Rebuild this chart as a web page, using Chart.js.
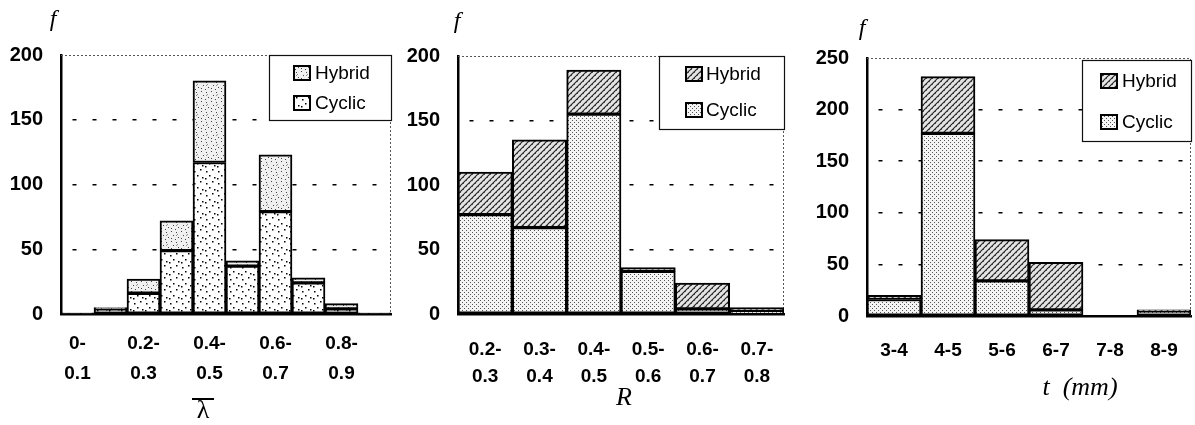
<!DOCTYPE html>
<html>
<head>
<meta charset="utf-8">
<script src="https://cdn.jsdelivr.net/npm/chart.js@4/dist/chart.umd.min.js"></script>
<style>
  body { margin: 0; background: #fff; }
  #wrap { position: relative; width: 1195px; height: 425px; }
  .panel { position: absolute; top: 0; height: 425px; }
</style>
</head>
<body>
<div id="wrap">
  <div class="panel" style="left:0px;width:400px"><canvas id="grafico-lambda" width="400" height="425"></canvas></div>
  <div class="panel" style="left:400px;width:395px"><canvas id="grafico-r" width="395" height="425"></canvas></div>
  <div class="panel" style="left:800px;width:395px"><canvas id="grafico-t" width="395" height="425"></canvas></div>
</div>
<script>
// dati
var lambdaCats = ['0-0.1', '0.1-0.2', '0.2-0.3', '0.3-0.4', '0.4-0.5', '0.5-0.6', '0.6-0.7', '0.7-0.8', '0.8-0.9', '0.9-1.0'];
var lambdaCyclic = [1, 4, 16, 49, 117, 37, 79, 24, 4, 1];
var lambdaHybrid = [0, 1, 11, 23, 63, 4, 44, 4, 4, 0];

var rCats = ['0.2-0.3', '0.3-0.4', '0.4-0.5', '0.5-0.6', '0.6-0.7', '0.7-0.8'];
var rCyclic = [77, 67, 155, 33, 4, 2];
var rHybrid = [33, 68, 34, 3, 20, 3];

var tCats = ['3-4', '4-5', '5-6', '6-7', '7-8', '8-9'];
var tCyclic = [16, 177, 34, 6, 0, 5];
var tHybrid = [4, 55, 40, 46, 0, 1];

var seriesNames = ['Cyclic', 'Hybrid'];
var yTicks1 = [0, 50, 100, 150, 200];
var yTicks3 = [0, 50, 100, 150, 200, 250];

// retini (pattern) per le barre
function tile(w, h, draw) {
    var c = document.createElement('canvas');
    c.width = w; c.height = h;
    var g = c.getContext('2d');
    draw(g);
    return document.createElement('canvas').getContext('2d').createPattern(c, 'repeat');
}

var sparseDots = tile(12, 12, function(g){
    g.fillStyle = '#fff'; g.fillRect(0, 0, 12, 12);
    g.fillStyle = '#000';
    [[2,3],[8,1],[5,7],[10,9],[1,10]].forEach(function(p){ g.fillRect(p[0], p[1], 1.5, 1.5); });
});
var speckle = tile(10, 10, function(g){
    g.fillStyle = '#f0f0f0'; g.fillRect(0, 0, 10, 10);
    g.fillStyle = '#444';
    [[1,1],[6,2],[3,5],[8,7],[1,8],[5,9]].forEach(function(p){ g.fillRect(p[0], p[1], 1, 1); });
    g.strokeStyle = '#777'; g.lineWidth = 0.8;
    g.beginPath(); g.moveTo(6, 6); g.lineTo(8, 4); g.stroke();
});
var fineDots = tile(4, 4, function(g){
    g.fillStyle = '#f4f4f4'; g.fillRect(0, 0, 4, 4);
    g.fillStyle = '#555';
    g.fillRect(0, 0, 1, 1); g.fillRect(2, 2, 1, 1);
});
var hatch = tile(6, 6, function(g){
    g.fillStyle = '#e4e4e4'; g.fillRect(0, 0, 6, 6);
    g.fillStyle = '#666';
    g.fillRect(0, 0, 1, 1); g.fillRect(3, 3, 1, 1);
    g.strokeStyle = '#222'; g.lineWidth = 1.1;
    g.beginPath();
    g.moveTo(0, 6); g.lineTo(6, 0);
    g.moveTo(-1, 1); g.lineTo(1, -1);
    g.moveTo(5, 7); g.lineTo(7, 5);
    g.stroke();
});

function splitRange(lab) {
    var p = lab.split('-');
    return [p[0] + '-', p[1]];
}

// plugin: cornice, legenda, etichette degli assi
var decorPlugin = {
    id: 'decor',
    beforeDatasetsDraw: function(chart) {
        var a = chart.chartArea, ctx = chart.ctx;
        ctx.save();
        ctx.strokeStyle = '#555';
        ctx.lineWidth = 1;
        ctx.setLineDash([2, 2]);
        ctx.beginPath();
        ctx.moveTo(a.left, a.top + 0.5);
        ctx.lineTo(a.right - 0.5, a.top + 0.5);
        ctx.lineTo(a.right - 0.5, a.bottom);
        ctx.stroke();
        ctx.restore();
    },
    afterDraw: function(chart, args, o) {
        var ctx = chart.ctx;
        ctx.save();
        // legenda
        var lx = o.legend.x, ly = o.legend.y;
        ctx.fillStyle = '#fff';
        ctx.fillRect(lx, ly, o.legend.w, o.legend.h);
        ctx.strokeStyle = '#111';
        ctx.lineWidth = 1.2;
        ctx.strokeRect(lx + 0.5, ly + 0.5, o.legend.w, o.legend.h);
        var sets = chart.data.datasets.slice().reverse();
        ctx.font = '19px "Liberation Sans", Arial, sans-serif';
        ctx.textBaseline = 'middle';
        sets.forEach(function(ds, i) {
            var cy = ly + o.legend.rows[i];
            ctx.fillStyle = ds.backgroundColor;
            ctx.fillRect(lx + o.legend.sw, cy - 7, 16, 14);
            ctx.strokeStyle = '#000';
            ctx.lineWidth = 2;
            ctx.strokeRect(lx + o.legend.sw, cy - 7, 16, 14);
            ctx.fillStyle = '#000';
            ctx.fillText(ds.label, lx + o.legend.tx, cy + 1);
        });
        // "f" sull'asse y
        ctx.font = 'italic 24px "Liberation Serif", serif';
        ctx.textAlign = 'center';
        ctx.fillText('f', o.f[0], o.f[1]);
        // titolo asse x
        if (o.xTitle === 'lambda') {
            ctx.font = '26px "Liberation Serif", serif';
            ctx.fillText('λ', o.xPos[0], o.xPos[1]);
            ctx.fillRect(o.xPos[0] - 11, o.xPos[1] - 13, 22, 2);
        } else {
            ctx.font = 'italic 26px "Liberation Serif", serif';
            ctx.fillText(o.xTitle, o.xPos[0], o.xPos[1]);
        }
        ctx.restore();
    }
};

function creaGrafico(id, cats, cyclic, hybrid, cfg) {
    var ctx = document.getElementById(id);
    return new Chart(ctx, {
        type: 'bar',
        data: {
            labels: cats,
            datasets: [{
                label: seriesNames[0],
                data: cyclic,
                backgroundColor: cfg.fills[0]
            }, {
                label: seriesNames[1],
                data: hybrid,
                backgroundColor: cfg.fills[1]
            }]
        },
        options: {
            responsive: false,
            animation: false,
            layout: { padding: { top: cfg.top, right: cfg.right, left: 0, bottom: 0 } },
            datasets: {
                bar: {
                    borderColor: '#000',
                    borderWidth: 2,
                    borderSkipped: false,
                    barPercentage: 1,
                    categoryPercentage: 1
                }
            },
            scales: {
                x: {
                    stacked: true,
                    grid: { display: false },
                    border: { color: '#000', width: 2.5 },
                    ticks: {
                        autoSkip: false,
                        maxRotation: 0,
                        padding: cfg.xPad,
                        color: '#000',
                        font: { family: '"Liberation Sans", Arial, sans-serif', size: 19, weight: 'bold', lineHeight: cfg.xLine + 'px' },
                        callback: cfg.tickCb
                    },
                    afterFit: function(s) { s.height = 425 - cfg.bottom; }
                },
                y: {
                    stacked: true,
                    min: 0,
                    max: cfg.yTicks[cfg.yTicks.length - 1],
                    afterBuildTicks: function(s) { s.ticks = cfg.yTicks.map(function(v){ return { value: v }; }); },
                    grid: {
                        drawTicks: false,
                        lineWidth: 1.5,
                        color: function(c) {
                            var v = c.tick ? c.tick.value : 0;
                            return (v === 0 || v === cfg.yTicks[cfg.yTicks.length - 1]) ? 'rgba(0,0,0,0)' : '#000';
                        }
                    },
                    border: { color: '#000', width: 2.5, dash: [4, 16], dashOffset: 10 },
                    ticks: {
                        padding: 18,
                        color: '#000',
                        font: { family: '"Liberation Sans", Arial, sans-serif', size: 20, weight: 'bold' }
                    },
                    afterFit: function(s) { s.width = cfg.left; }
                }
            },
            plugins: {
                legend: { display: false },
                tooltip: { enabled: false },
                decor: cfg.decor
            }
        },
        plugins: [decorPlugin]
    });
}

creaGrafico('grafico-lambda', lambdaCats, lambdaCyclic, lambdaHybrid, {
    fills: [sparseDots, speckle],
    top: 55, right: 9, left: 61, bottom: 314,
    xPad: 7, xLine: 30,
    yTicks: yTicks1,
    tickCb: function(v, i) { return i % 2 === 0 ? splitRange(this.getLabelForValue(v)) : ''; },
    decor: {
        legend: { x: 269, y: 55, w: 122, h: 65, sw: 25, tx: 46, rows: [18, 48] },
        f: [53, 20], xTitle: 'lambda', xPos: [203, 411]
    }
});

creaGrafico('grafico-r', rCats, rCyclic, rHybrid, {
    fills: [fineDots, hatch],
    top: 56, right: 11, left: 58, bottom: 314,
    xPad: 14, xLine: 27,
    yTicks: yTicks1,
    tickCb: function(v) { return splitRange(this.getLabelForValue(v)); },
    decor: {
        legend: { x: 259, y: 56, w: 125, h: 73, sw: 27, tx: 47, rows: [18, 54] },
        f: [57, 22], xTitle: 'R', xPos: [224, 398]
    }
});

creaGrafico('grafico-t', tCats, tCyclic, tHybrid, {
    fills: [fineDots, hatch],
    top: 58, right: 4, left: 67, bottom: 316,
    xPad: 12, xLine: 30,
    yTicks: yTicks3,
    tickCb: function(v) { return this.getLabelForValue(v); },
    decor: {
        legend: { x: 282, y: 60, w: 109, h: 81, sw: 19, tx: 40, rows: [21, 62] },
        f: [62, 29], xTitle: 't  (mm)', xPos: [280, 388]
    }
});
</script>
</body>
</html>
